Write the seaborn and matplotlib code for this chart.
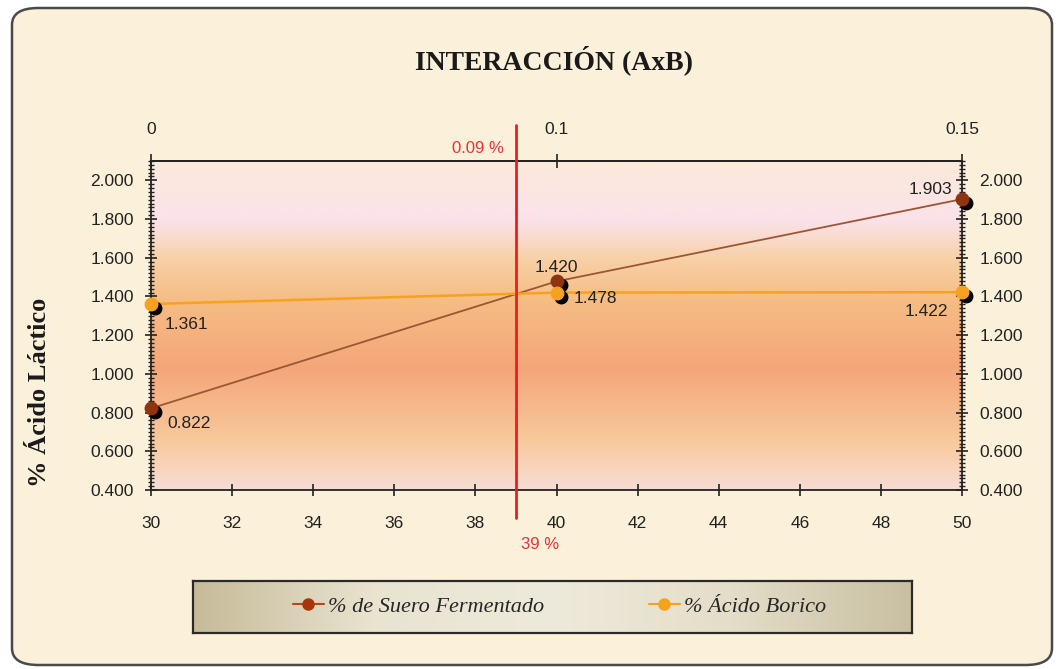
import matplotlib
matplotlib.use("Agg")
import matplotlib.pyplot as plt
import matplotlib.transforms as mtransforms
from matplotlib.colors import LinearSegmentedColormap
from matplotlib.patches import FancyBboxPatch
from matplotlib.lines import Line2D
import numpy as np
import pandas as pd
import seaborn as sns

# data
suero_x = [30, 40, 50]
suero_y = [0.822, 1.478, 1.903]
borico_x = [30, 40, 50]
borico_y = [1.361, 1.420, 1.422]
suero_labels = ["0.822", "1.420", "1.903"]
borico_labels = ["1.361", "1.478", "1.422"]
top_ticks = [30, 40, 50]
top_labels = ["0", "0.1", "0.15"]
optimo_x = 39

brown = "#8E3510"
brown_line = "#9B5632"
orange = "#F7A21E"

sns.set_theme(style="white")
plt.rcParams['font.family'] = ['Liberation Sans', 'DejaVu Sans']

fig = plt.figure(figsize=(10.57, 6.69), dpi=100, facecolor="white")

# rounded parchment frame
frame = FancyBboxPatch((12 / 1057, 4 / 669), 1040 / 1057, 657 / 669,
                       boxstyle="round,pad=0,rounding_size=0.025",
                       transform=fig.transFigure, facecolor="#FBF0D9",
                       edgecolor="#4A4A4A", linewidth=1.8, zorder=-10)
fig.patches.append(frame)

ax = fig.add_axes([151 / 1057, 1 - 490 / 669, 811 / 1057, 329 / 669])

# vertical gradient in plot area
stops = [(0.0, "#F8DDD6"), (0.15, "#F7C99C"), (0.37, "#F4A67A"),
         (0.58, "#F6BD84"), (0.70, "#F8D0A5"), (0.82, "#FBE2EA"), (1.0, "#FBEADB")]
cmap = LinearSegmentedColormap.from_list("bg", stops)
grad = np.linspace(1, 0, 256).reshape(-1, 1)
ax.imshow(grad, cmap=cmap, extent=[0, 1, 0, 1], transform=ax.transAxes,
          aspect="auto", zorder=0)

df_s = pd.DataFrame({"x": suero_x, "y": suero_y})
df_b = pd.DataFrame({"x": borico_x, "y": borico_y})

# marker shadows
shadow = mtransforms.offset_copy(ax.transData, fig=fig, x=4, y=-4, units="dots")
ax.plot(suero_x, suero_y, "o", color="black", markersize=9, transform=shadow,
        zorder=3, clip_on=False)
ax.plot(borico_x, borico_y, "o", color="black", markersize=9, transform=shadow,
        zorder=3, clip_on=False)

sns.lineplot(data=df_s, x="x", y="y", color=brown_line, linewidth=1.3, ax=ax, zorder=2)
sns.lineplot(data=df_b, x="x", y="y", color=orange, linewidth=1.8, ax=ax, zorder=2)
ax.plot(suero_x, suero_y, "o", color=brown, markersize=9, zorder=4, clip_on=False)
ax.plot(borico_x, borico_y, "o", color=orange, markersize=9, zorder=4, clip_on=False)

# red reference line
ax.axvline(optimo_x, ymin=-0.085, ymax=1.11, color="#EE1C1C", linewidth=2,
           clip_on=False, zorder=5)
ax.text(optimo_x - 0.3, 2.125, "0.09 %", color="#E8303A", fontsize=12,
        ha="right", va="bottom")
ax.text(optimo_x + 0.6, 0.12, "39 %", color="#E8303A", fontsize=12,
        ha="center", va="center")

# data labels
s_off = [(12, -11), (0, 10), (-7, 7)]
s_ha = ["left", "center", "right"]
b_off = [(10, -15), (12, -4), (-10, -14)]
b_ha = ["left", "left", "right"]
for x, y, t, o, h in zip(suero_x, suero_y, suero_labels, s_off, s_ha):
    ax.annotate(t, (x, y), xytext=o, textcoords="offset points", ha=h,
                va="center", fontsize=12.5, color="#222222", zorder=6)
for x, y, t, o, h in zip(borico_x, borico_y, borico_labels, b_off, b_ha):
    ax.annotate(t, (x, y), xytext=o, textcoords="offset points", ha=h,
                va="center", fontsize=12.5, color="#222222", zorder=6)

ax.set_xlim(30, 50)
ax.set_ylim(0.4, 2.1)
ax.set_xticks(np.arange(30, 51, 2))
ax.set_yticks(np.arange(0.4, 2.01, 0.2))
ax.set_yticks(np.arange(0.4, 2.1, 0.02), minor=True)
ax.set_yticklabels([f"{v:.3f}" for v in np.arange(0.4, 2.01, 0.2)])
ax.set_xlabel("")
ax.set_ylabel("")
ax.tick_params(axis="y", which="major", direction="inout", length=9, width=1.2,
               left=True, right=True, labelleft=True, labelright=True,
               labelsize=12.5, colors="#222222", pad=8)
ax.tick_params(axis="y", which="minor", direction="inout", length=5, width=1,
               left=True, right=True, colors="#222222")
ax.tick_params(axis="x", which="major", direction="inout", length=9, width=1.2,
               bottom=True, labelsize=12.5, colors="#222222", pad=14)
for sp in ax.spines.values():
    sp.set_color("#222222")
    sp.set_linewidth(1.3)

sec = ax.secondary_xaxis("top")
sec.set_xticks(top_ticks)
sec.set_xticklabels(top_labels)
sec.tick_params(direction="inout", length=10, width=1.2, labelsize=12.5,
                colors="#222222", pad=12)
sec.spines["top"].set_color("#222222")

fig.text(554 / 1057, 1 - 60 / 669, "INTERACCIÓN (AxB)", ha="center", va="center",
         fontsize=20, fontweight="bold", family=["Liberation Serif", "DejaVu Serif"],
         color="#1A1A1A")
fig.text(40 / 1057, 1 - 392 / 669, "% Ácido Láctico", ha="center", va="center",
         rotation=90, fontsize=19, fontweight="bold",
         family=["Liberation Serif", "DejaVu Serif"], color="#1A1A1A")

# legend box with gradient
lax = fig.add_axes([193 / 1057, 1 - 633 / 669, 719 / 1057, 52 / 669])
lcmap = LinearSegmentedColormap.from_list(
    "lg", ["#C6BB98", "#E9E3D0", "#EEEADB", "#E4DDC8", "#C9C0A2"])
lax.imshow(np.linspace(0, 1, 256).reshape(1, -1), cmap=lcmap, aspect="auto",
           extent=[0, 1, 0, 1])
lax.set_xlim(0, 1)
lax.set_ylim(0, 1)
lax.set_xticks([])
lax.set_yticks([])
for sp in lax.spines.values():
    sp.set_visible(True)
    sp.set_color("#2A2A2A")
    sp.set_linewidth(1.6)
handles = [Line2D([], [], color="#B04A1C", marker="o", markersize=9,
                  markerfacecolor="#A8360C", markeredgewidth=0, linewidth=1.5),
           Line2D([], [], color=orange, marker="o", markersize=9,
                  markeredgewidth=0, linewidth=1.5)]
lax.legend(handles, ["% de Suero Fermentado", "% Ácido Borico"], loc="center",
           bbox_to_anchor=(0.51, 0.5), ncol=2, frameon=False, handlelength=1.4,
           handletextpad=0.2, columnspacing=4.7,
           prop={"family": ["Liberation Serif", "DejaVu Serif"], "style": "italic",
                 "size": 16})

fig.savefig("out.png", dpi=100, facecolor="white")
